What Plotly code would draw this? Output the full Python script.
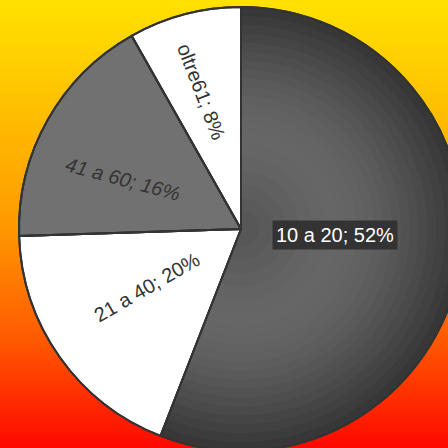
import base64
import plotly.graph_objects as go

# ---- data ----
categories = ["10 a 20", "21 a 40", "41 a 60", "oltre61"]
label_percent = [52, 20, 16, 8]                 # percentages printed on the labels
slice_share = [55.9, 18.6, 17.3, 8.2]           # share of the circle each slice covers
slice_colors = ["#373737", "#ffffff", "#717171", "#ffffff"]

# shading bands for the dark slice (outer radius fraction, colour)
shade_radius = [0.96, 0.92, 0.88, 0.84, 0.80, 0.76, 0.72, 0.68, 0.64, 0.60,
                0.56, 0.52, 0.48, 0.44, 0.38, 0.32, 0.26, 0.20, 0.14, 0.08]
shade_color = ["#3c3c3c", "#414141", "#454545", "#4a4a4a", "#4e4e4e", "#525252",
               "#565656", "#5a5a5a", "#5d5d5d", "#606060", "#626262", "#646464",
               "#656565", "#666666", "#656565", "#636363", "#606060", "#5d5d5d",
               "#5a5a5a", "#575757"]

# ---- figure geometry (window is 448x448; figure is a bit larger so the pie can overflow) ----
W, H = 470, 460
VIEW = 448
cx, cy, R = 241, 229, 222
FONT = "Liberation Sans, Arial"
CLEAR = "rgba(0,0,0,0)"

labels_txt = [f"{c}; {p}%" for c, p in zip(categories, label_percent)]


def dom(r):
    return dict(x=[(cx - r) / W, (cx + r) / W], y=[(H - (cy + r)) / H, (H - (cy - r)) / H])


def pie(r, colors, line_w=0, line_c="#333333"):
    return go.Pie(labels=categories, values=slice_share, sort=False, direction="clockwise",
                  rotation=0, textinfo="none", hoverinfo="skip",
                  marker=dict(colors=colors, line=dict(color=line_c, width=line_w)),
                  domain=dom(r))


svg = f'''<svg xmlns="http://www.w3.org/2000/svg" width="{W}" height="{H}">
<defs><linearGradient id="g" gradientUnits="userSpaceOnUse" x1="0" y1="0" x2="0" y2="{VIEW}">
<stop offset="0" stop-color="#ffe200"/>
<stop offset="0.5" stop-color="#ff9a00"/>
<stop offset="0.75" stop-color="#ff5c00"/>
<stop offset="1" stop-color="#ff0800"/>
</linearGradient></defs>
<rect x="0" y="0" width="{W}" height="{H}" fill="url(#g)"/>
</svg>'''
bg_src = "data:image/svg+xml;base64," + base64.b64encode(svg.encode()).decode()

fig = go.Figure()
# base pie
base = pie(R, slice_colors, line_w=2)
base.update(hoverinfo="label+percent")
fig.add_trace(base)
# shading of the dark slice
for rf, c in zip(shade_radius, shade_color):
    fig.add_trace(pie(R * rf, [c, CLEAR, CLEAR, CLEAR]))
# outlines on top
fig.add_trace(pie(R, [CLEAR] * 4, line_w=2))

# labels: (px x, px y, angle)
label_pos = [(334.5, 235, 0), (147.3, 287.3, -30), (122.7, 179, 15), (201.7, 91.7, 69)]
for i, (px, py, ang) in enumerate(label_pos):
    fig.add_annotation(
        x=px / W, y=1 - py / H, xref="paper", yref="paper", xanchor="center", yanchor="middle",
        text=labels_txt[i], showarrow=False, textangle=ang,
        font=dict(family=FONT, size=20, color="#ffffff" if i == 0 else "#333333",
                  style="italic" if i == 2 else "normal"),
        bgcolor="#333333" if i == 0 else CLEAR, borderpad=3 if i == 0 else 0,
    )

fig.add_layout_image(dict(source=bg_src, xref="paper", yref="paper", x=0, y=1,
                          sizex=1, sizey=1, sizing="stretch", layer="below",
                          xanchor="left", yanchor="top"))

fig.update_layout(
    width=W, height=H, margin=dict(l=0, r=0, t=0, b=0),
    paper_bgcolor="#ff9a00", showlegend=False,
)

fig.write_html("out.html", config={"displayModeBar": False},
               post_script="document.body.style.margin='0';document.body.style.overflow='hidden';")
